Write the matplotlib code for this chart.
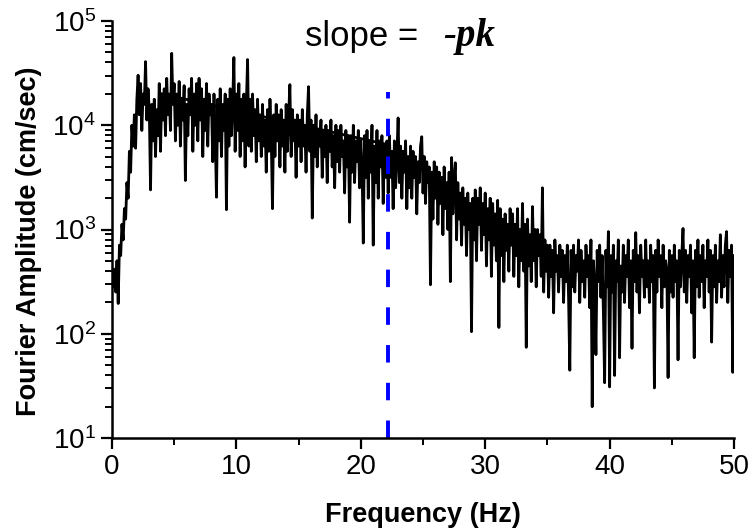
import numpy as np
import matplotlib
matplotlib.use("Agg")
import matplotlib.pyplot as plt

plt.rcParams['font.family'] = ['Liberation Sans', 'DejaVu Sans']
plt.rcParams['mathtext.fontset'] = 'custom'
plt.rcParams['mathtext.rm'] = 'Liberation Sans'

# log10 of Fourier amplitude (cm/sec), one row per Hz (0.1 Hz steps)
log_amp = [
    2.45, 2.62, 2.40, 2.70, 2.29, 2.85, 2.75, 3.05, 2.90, 3.20,
    3.10, 3.45, 3.30, 3.75, 3.55, 4.00, 3.80, 4.10, 3.78, 4.25,
    4.48, 4.10, 4.40, 3.95, 4.30, 4.20, 4.61, 4.05, 4.35, 4.15,
    3.38, 4.20, 3.85, 4.25, 3.70, 4.15, 3.90, 4.40, 3.75, 4.30,
    4.05, 4.35, 3.90, 4.45, 4.10, 4.30, 3.95, 4.69, 4.20, 4.40,
    3.85, 4.30, 4.00, 4.42, 3.80, 4.25, 4.05, 4.38, 3.47, 4.20,
    3.90, 4.35, 4.10, 4.45, 3.75, 4.30, 4.00, 4.40, 3.85, 4.45,
    4.05, 4.35, 3.70, 4.25, 3.95, 4.40, 3.80, 4.30, 4.10, 4.20,
    3.65, 4.30, 3.90, 3.31, 4.25, 3.85, 4.35, 3.70, 4.20, 3.95,
    4.30, 3.19, 4.25, 3.80, 4.35, 3.90, 4.20, 4.65, 3.75, 4.30,
    3.95, 4.40, 3.70, 4.25, 3.85, 4.30, 3.60, 4.20, 4.63, 3.80,
    4.25, 3.75, 4.30, 3.90, 4.15, 3.65, 4.25, 3.85, 4.10, 3.70,
    4.20, 3.80, 4.05, 3.55, 4.15, 3.75, 4.25, 3.90, 3.20, 4.10,
    3.70, 4.20, 3.85, 4.10, 3.60, 4.15, 3.80, 4.05, 3.55, 4.20,
    3.75, 4.10, 4.39, 3.70, 4.15, 3.85, 4.05, 3.50, 4.10, 3.80,
    4.05, 3.65, 4.15, 3.80, 4.00, 3.55, 4.10, 4.37, 3.75, 4.05,
    3.11, 4.00, 3.70, 4.10, 3.60, 3.95, 3.80, 4.05, 3.50, 3.95,
    3.70, 4.00, 3.45, 3.95, 3.75, 4.05, 3.60, 3.90, 3.40, 4.00,
    3.65, 3.95, 3.55, 4.00, 3.70, 3.85, 3.35, 3.95, 3.60, 3.90,
    3.07, 3.90, 3.55, 4.00, 3.45, 3.85, 3.65, 3.95, 3.40, 3.85,
    3.60, 2.87, 3.90, 3.50, 3.95, 3.30, 3.85, 3.55, 4.00, 2.85,
    3.80, 3.45, 3.95, 3.30, 3.85, 3.60, 3.90, 3.25, 3.80, 3.50,
    3.85, 3.35, 3.90, 3.50, 3.75, 3.20, 3.85, 3.40, 3.70, 4.07,
    3.45, 3.80, 3.30, 3.75, 3.55, 3.85, 3.20, 3.70, 3.40, 3.80,
    3.30, 3.75, 3.50, 3.70, 3.15, 3.65, 3.45, 3.80, 3.89, 3.35,
    3.70, 3.25, 3.65, 3.45, 3.60, 2.47, 3.55, 3.10, 3.65, 3.30,
    3.60, 3.05, 3.55, 3.25, 3.50, 2.95, 3.60, 3.20, 3.45, 3.00,
    3.55, 2.50, 3.69, 3.15, 3.50, 3.64, 2.90, 3.45, 3.10, 3.35,
    2.85, 3.40, 3.05, 3.30, 2.75, 3.35, 3.00, 3.25, 2.02, 3.30,
    2.90, 3.38, 2.70, 3.30, 3.05, 3.40, 2.80, 3.25, 2.95, 3.35,
    2.65, 3.20, 2.90, 3.30, 2.55, 3.25, 2.85, 3.15, 2.70, 3.28,
    2.06, 3.20, 2.75, 3.10, 2.50, 3.15, 2.80, 3.05, 2.60, 3.20,
    2.85, 3.15, 2.55, 3.05, 2.75, 3.20, 2.45, 3.00, 2.70, 3.25,
    2.60, 3.05, 1.87, 3.10, 2.65, 2.95, 2.50, 3.22, 2.70, 3.00,
    2.45, 3.00, 2.75, 2.95, 2.55, 3.40, 2.40, 2.90, 2.60, 2.85,
    2.35, 2.85, 2.55, 2.80, 2.20, 2.90, 2.60, 2.75, 2.40, 2.85,
    2.55, 2.80, 2.30, 2.75, 2.50, 2.85, 2.35, 1.65, 2.80, 2.45,
    2.85, 2.40, 2.75, 2.60, 2.90, 2.30, 2.80, 2.50, 2.70, 2.35,
    2.85, 2.55, 2.75, 2.25, 2.90, 1.30, 2.70, 2.45, 1.80, 2.80,
    2.50, 2.85, 2.35, 2.75, 2.20, 1.53, 2.80, 2.45, 2.98, 1.49,
    2.75, 2.40, 2.85, 1.60, 2.70, 2.50, 2.90, 1.77, 2.65, 2.40,
    2.85, 2.30, 2.75, 2.55, 2.90, 2.25, 2.70, 1.86, 2.80, 2.50,
    2.97, 2.40, 2.75, 2.20, 2.85, 2.55, 2.70, 2.35, 2.90, 2.45,
    2.70, 2.30, 2.85, 2.50, 2.75, 1.48, 2.80, 2.40, 2.90, 2.55,
    2.75, 2.25, 2.85, 2.45, 2.70, 2.60, 1.58, 2.80, 2.40, 2.75,
    2.35, 2.85, 2.50, 2.70, 1.75, 2.80, 2.45, 2.75, 3.01, 2.40,
    2.80, 2.30, 2.75, 2.55, 2.85, 2.20, 2.70, 1.77, 2.80, 2.45,
    2.90, 2.35, 2.75, 2.50, 2.85, 2.25, 2.70, 2.55, 2.90, 2.40,
    2.80, 1.92, 2.75, 2.45, 2.85, 2.30, 2.70, 2.50, 2.95, 2.35,
    2.75, 2.45, 2.85, 2.98, 2.30, 2.80, 2.55, 2.85, 1.63, 2.75,
]
freq = np.arange(1, len(log_amp) + 1) * 0.1
amp = 10 ** np.array(log_amp)

# straight-line (kappa) fit drawn over the spectrum
fit_freq = [4.0, 22.2]
fit_amp = [2.0e4, 6.5e3]

fc_line = 22.2          # frequency of the dashed marker
fc_top = 2.1e4

fig = plt.figure(figsize=(7.53, 5.32), dpi=100)
ax = fig.add_axes([0.1487, 0.1767, 0.8261, 0.7838])

ax.plot(freq, amp, color='black', lw=2.0)
ax.plot(fit_freq, fit_amp, color='black', lw=2.0)
ax.plot([fc_line, fc_line], [10, fc_top], color='#0000ff', lw=2.8,
        linestyle=(0, (4.5, 5.2)))

ax.set_yscale('log')
ax.set_xlim(0, 50)
ax.set_ylim(10, 1e5)
ax.set_xticks([0, 10, 20, 30, 40, 50])
ax.set_xticks([5, 15, 25, 35, 45], minor=True)

for s in ['top', 'right']:
    ax.spines[s].set_visible(False)
for s in ['left', 'bottom']:
    ax.spines[s].set_linewidth(1.8)

ax.tick_params(which='major', direction='out', length=8, width=1.6, labelsize=20)
ax.tick_params(which='minor', direction='out', length=5, width=1.4)

ax.set_xlabel('Frequency (Hz)', fontsize=19.5, fontweight='bold')
ax.set_ylabel('Fourier Amplitude (cm/sec)', fontsize=19.5, fontweight='bold')
ax.xaxis.set_label_coords(0.5, -0.153)
ax.yaxis.set_label_coords(-0.1125, 0.472)

ax.text(0.492, 0.940, 'slope =', transform=ax.transAxes, ha='right',
        va='baseline', fontsize=25)
ax.text(0.532, 0.940, '-pk', transform=ax.transAxes, ha='left', va='baseline',
        fontsize=28, fontweight='bold', fontstyle='italic',
        family=['Liberation Serif', 'DejaVu Serif'])

fig.savefig('out.png', dpi=100)
